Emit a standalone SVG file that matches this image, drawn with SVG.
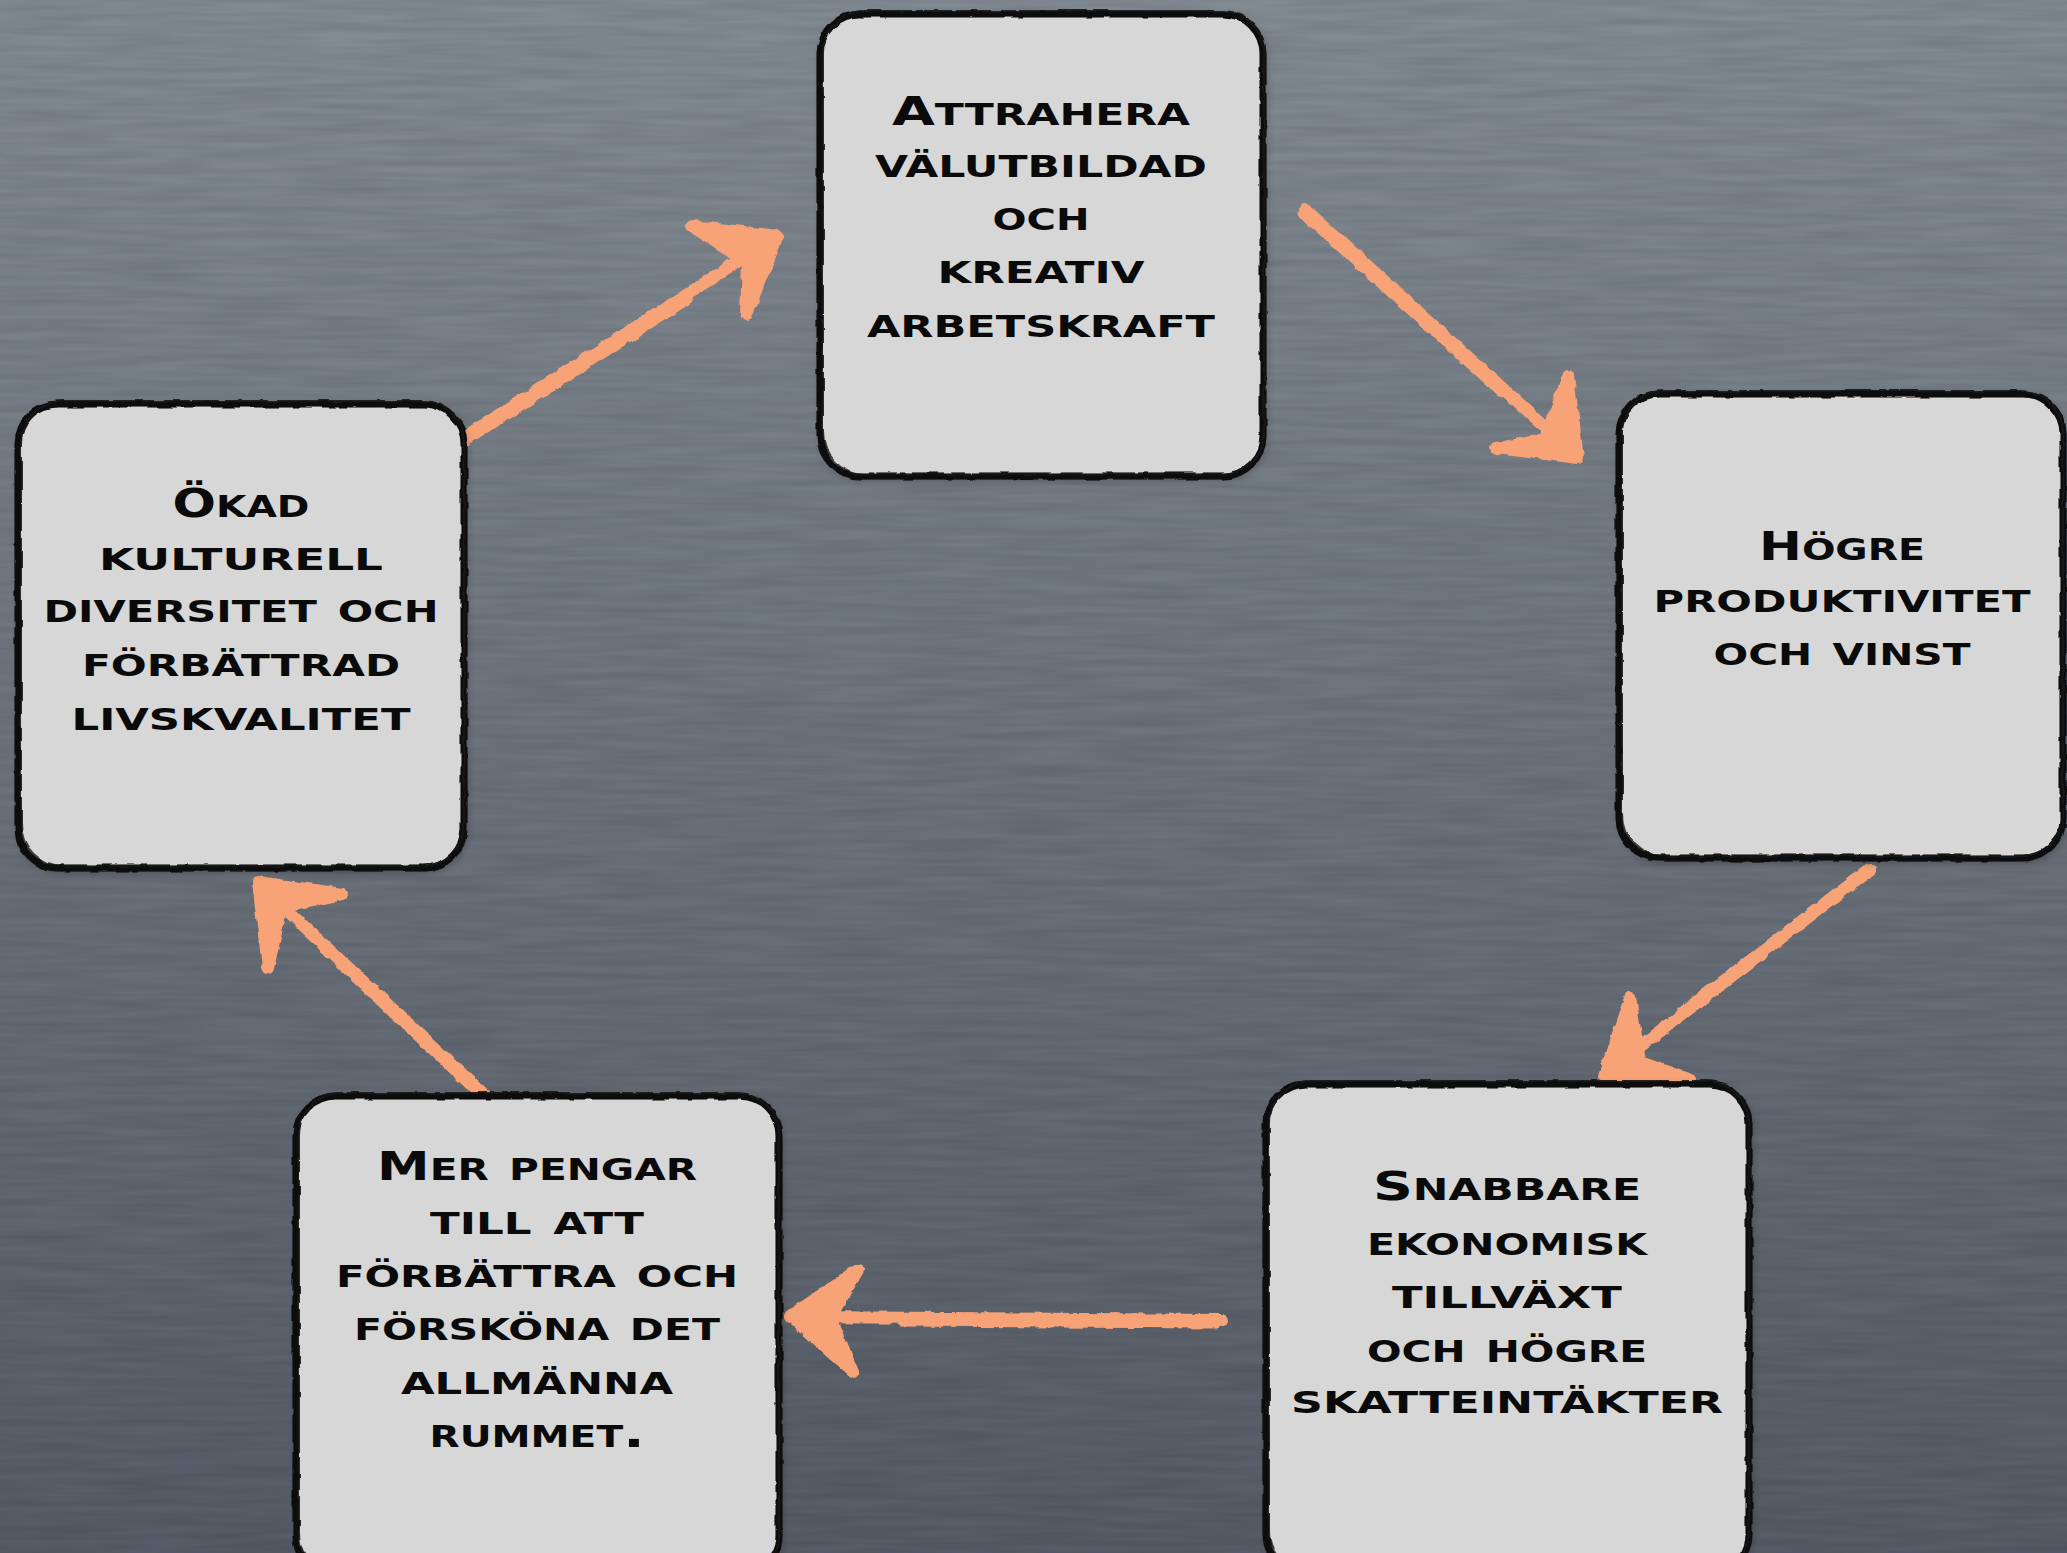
<svg xmlns="http://www.w3.org/2000/svg" width="2067" height="1553" viewBox="0 0 2067 1553">
  <defs>
    <linearGradient id="bg" x1="0" y1="0" x2="0" y2="1">
      <stop offset="0" stop-color="#838b93"/>
      <stop offset="0.5" stop-color="#6c737c"/>
      <stop offset="1" stop-color="#565d68"/>
    </linearGradient>
    <filter id="paper" x="0" y="0" width="100%" height="100%">
      <feTurbulence type="fractalNoise" baseFrequency="0.01 0.15" numOctaves="2" seed="3" result="n"/>
      <feColorMatrix in="n" type="matrix" values="0 0 0 0 0  0 0 0 0 0  0 0 0 0 0  0 0 0 0.16 -0.04" result="a"/>
      <feComposite in="a" in2="SourceGraphic" operator="in"/>
    </filter>
    <filter id="rough" x="-5%" y="-5%" width="110%" height="110%">
      <feTurbulence type="fractalNoise" baseFrequency="0.06" numOctaves="2" seed="7" result="t"/>
      <feDisplacementMap in="SourceGraphic" in2="t" scale="4" xChannelSelector="R" yChannelSelector="G"/>
    </filter>
    <filter id="chalk" x="-10%" y="-10%" width="120%" height="120%">
      <feTurbulence type="fractalNoise" baseFrequency="0.09" numOctaves="2" seed="11" result="t"/>
      <feDisplacementMap in="SourceGraphic" in2="t" scale="5" xChannelSelector="R" yChannelSelector="G"/>
    </filter>
    <filter id="shadow" x="-10%" y="-10%" width="120%" height="120%">
      <feGaussianBlur in="SourceAlpha" stdDeviation="5"/>
      <feOffset dx="2" dy="3" result="b"/>
      <feFlood flood-color="#000" flood-opacity="0.35"/>
      <feComposite in2="b" operator="in"/>
      <feMerge><feMergeNode/><feMergeNode in="SourceGraphic"/></feMerge>
    </filter>
  </defs>
  <style>
    .card { fill: #d7d7d7; }
    .edge { fill: none; stroke: #0d0d0d; stroke-width: 7; }
    .edge2 { fill: none; stroke: #1a1a1a; stroke-width: 2; opacity: 0.8; }
    .lbl { font-family: "DejaVu Sans", "Liberation Sans", sans-serif; font-weight: bold; font-size: 43px; font-variant: small-caps; fill: #0a0a0a; text-anchor: middle; }
    .cap { font-size: 39px; }
    .shaft { fill: none; stroke: #f7a277; stroke-width: 12; stroke-linecap: round; }
    .streak { fill: none; stroke: #f7a277; stroke-width: 5; stroke-linecap: round; }
    .head { fill: #f7a277; stroke: #f7a277; stroke-width: 12; stroke-linejoin: round; stroke-linecap: round; }
  </style>

  <rect width="2067" height="1553" fill="url(#bg)"/>
  <rect width="2067" height="1553" fill="#000" filter="url(#paper)"/>

  <g id="connectors" filter="url(#chalk)">
    <g id="e1">
      <line class="shaft" x1="458" y1="441" x2="770" y2="241"/>
      <line class="streak" x1="462" y1="446" x2="690" y2="301"/>
      <polygon class="head" points="692,226 778,236 746,314 748,262"/>
    </g>
    <g id="e2">
      <line class="shaft" x1="1305" y1="209" x2="1574" y2="453"/>
      <line class="streak" x1="1300" y1="214" x2="1500" y2="394"/>
      <polygon class="head" points="1568,376 1578,458 1496,448 1545,440"/>
    </g>
    <g id="e3">
      <line class="shaft" x1="1871" y1="869" x2="1610" y2="1070"/>
      <line class="streak" x1="1866" y1="867" x2="1680" y2="1010"/>
      <polygon class="head" points="1630,998 1604,1076 1690,1080 1640,1062"/>
    </g>
    <g id="e4">
      <line class="shaft" x1="1221" y1="1320" x2="795" y2="1317"/>
      <line class="streak" x1="1218" y1="1326" x2="900" y2="1324"/>
      <polygon class="head" points="858,1270 790,1316 853,1372 830,1318"/>
    </g>
    <g id="e5">
      <line class="shaft" x1="488" y1="1098" x2="262" y2="887"/>
      <line class="streak" x1="482" y1="1100" x2="320" y2="948"/>
      <polygon class="head" points="342,894 258,882 268,968 282,906"/>
    </g>
  </g>

  <g id="n1">
    <rect class="card" x="820" y="14" width="443" height="462" rx="40" filter="url(#shadow)"/>
    <g filter="url(#rough)">
      <rect class="edge" x="820" y="14" width="443" height="462" rx="40"/>
      <rect class="edge2" x="823" y="11" width="441" height="463" rx="42"/>
    </g>
    <text class="lbl" x="1041" y="125" textLength="298" lengthAdjust="spacingAndGlyphs"><tspan class="cap">A</tspan>ttrahera</text>
    <text class="lbl" x="1041" y="177" textLength="332" lengthAdjust="spacingAndGlyphs">välutbildad</text>
    <text class="lbl" x="1041" y="230" textLength="97" lengthAdjust="spacingAndGlyphs">och</text>
    <text class="lbl" x="1041" y="283" textLength="207" lengthAdjust="spacingAndGlyphs">kreativ</text>
    <text class="lbl" x="1041" y="337" textLength="348" lengthAdjust="spacingAndGlyphs">arbetskraft</text>
  </g>

  <g id="n2">
    <rect class="card" x="1619" y="394" width="444" height="464" rx="40" filter="url(#shadow)"/>
    <g filter="url(#rough)">
      <rect class="edge" x="1619" y="394" width="444" height="464" rx="40"/>
      <rect class="edge2" x="1622" y="391" width="441" height="465" rx="42"/>
    </g>
    <text class="lbl" x="1842" y="560" textLength="166" lengthAdjust="spacingAndGlyphs"><tspan class="cap">H</tspan>ögre</text>
    <text class="lbl" x="1842" y="612" textLength="377" lengthAdjust="spacingAndGlyphs">produktivitet</text>
    <text class="lbl" x="1842" y="665" textLength="257" lengthAdjust="spacingAndGlyphs">och vinst</text>
  </g>

  <g id="n3">
    <rect class="card" x="1266" y="1084" width="483" height="490" rx="40" filter="url(#shadow)"/>
    <g filter="url(#rough)">
      <rect class="edge" x="1266" y="1084" width="483" height="490" rx="40"/>
      <rect class="edge2" x="1269" y="1081" width="480" height="492" rx="42"/>
    </g>
    <text class="lbl" x="1507" y="1200" textLength="268" lengthAdjust="spacingAndGlyphs"><tspan class="cap">S</tspan>nabbare</text>
    <text class="lbl" x="1507" y="1255" textLength="280" lengthAdjust="spacingAndGlyphs">ekonomisk</text>
    <text class="lbl" x="1507" y="1308" textLength="230" lengthAdjust="spacingAndGlyphs">tillväxt</text>
    <text class="lbl" x="1507" y="1362" textLength="280" lengthAdjust="spacingAndGlyphs">och högre</text>
    <text class="lbl" x="1507" y="1413" textLength="432" lengthAdjust="spacingAndGlyphs">skatteintäkter</text>
  </g>

  <g id="n4">
    <rect class="card" x="296" y="1096" width="483" height="480" rx="40" filter="url(#shadow)"/>
    <g filter="url(#rough)">
      <rect class="edge" x="296" y="1096" width="483" height="480" rx="40"/>
      <rect class="edge2" x="299" y="1093" width="480" height="482" rx="42"/>
    </g>
    <text class="lbl" x="537" y="1180" textLength="320" lengthAdjust="spacingAndGlyphs"><tspan class="cap">M</tspan>er pengar</text>
    <text class="lbl" x="537" y="1234" textLength="214" lengthAdjust="spacingAndGlyphs">till att</text>
    <text class="lbl" x="537" y="1287" textLength="402" lengthAdjust="spacingAndGlyphs">förbättra och</text>
    <text class="lbl" x="537" y="1340" textLength="366" lengthAdjust="spacingAndGlyphs">försköna det</text>
    <text class="lbl" x="537" y="1394" textLength="272" lengthAdjust="spacingAndGlyphs">allmänna</text>
    <text class="lbl" x="537" y="1447" textLength="215" lengthAdjust="spacingAndGlyphs">rummet.</text>
  </g>

  <g id="n5">
    <rect class="card" x="18" y="404" width="446" height="464" rx="40" filter="url(#shadow)"/>
    <g filter="url(#rough)">
      <rect class="edge" x="18" y="404" width="446" height="464" rx="40"/>
      <rect class="edge2" x="21" y="401" width="443" height="465" rx="42"/>
    </g>
    <text class="lbl" x="241" y="517" textLength="137" lengthAdjust="spacingAndGlyphs"><tspan class="cap">Ö</tspan>kad</text>
    <text class="lbl" x="241" y="570" textLength="284" lengthAdjust="spacingAndGlyphs">kulturell</text>
    <text class="lbl" x="241" y="622" textLength="395" lengthAdjust="spacingAndGlyphs">diversitet och</text>
    <text class="lbl" x="241" y="676" textLength="318" lengthAdjust="spacingAndGlyphs">förbättrad</text>
    <text class="lbl" x="241" y="730" textLength="339" lengthAdjust="spacingAndGlyphs">livskvalitet</text>
  </g>
</svg>
